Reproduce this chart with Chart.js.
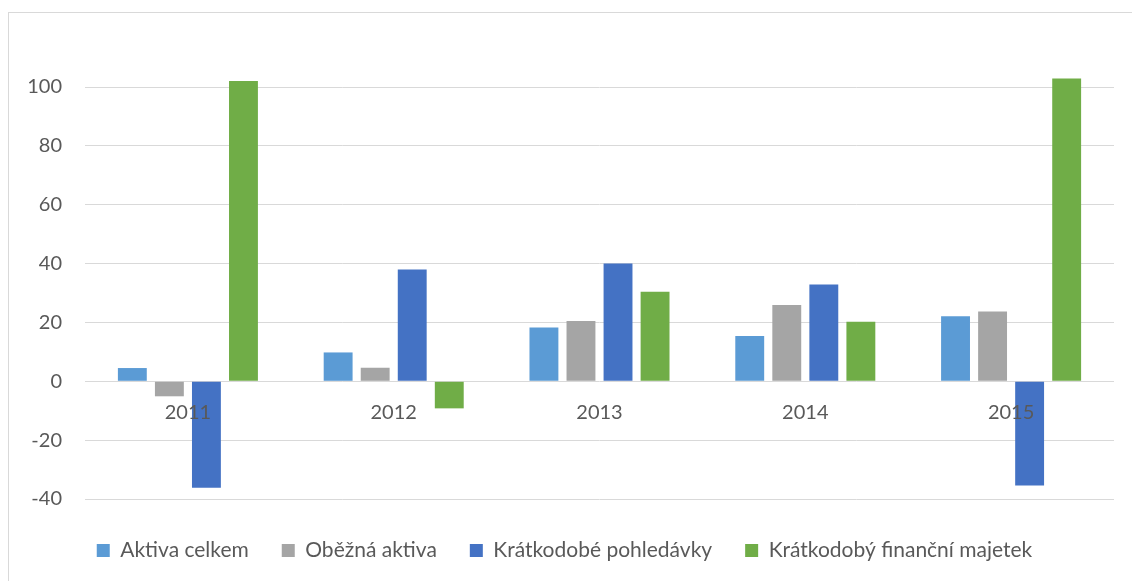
<!DOCTYPE html>
<html>
<head>
<meta charset="utf-8">
<script src="https://cdn.jsdelivr.net/npm/chart.js@4"></script>
<style>
    body { margin: 0; overflow: hidden; background: #fff; }
    #frame { position: absolute; left: 8px; top: 12px; width: 1140px; height: 600px; border: 1px solid #d9d9d9; }
    #chart { position: absolute; left: 0; top: 0; }
</style>
</head>
<body>
<div id="frame"></div>
<canvas id="chart" width="1132" height="581"></canvas>
<script>
// Data
const years = ['2011', '2012', '2013', '2014', '2015'];
const aktivaCelkem = [4.5, 9.8, 18.3, 15.4, 22.1];
const obeznaAktiva = [-5.1, 4.6, 20.5, 25.9, 23.7];
const kratkodobePohledavky = [-36.2, 38.0, 40.0, 32.9, -35.4];
const financniMajetek = [102.0, -9.2, 30.4, 20.2, 102.9];
const seriesNames = ['Aktiva celkem', 'Oběžná aktiva', 'Krátkodobé pohledávky', 'Krátkodobý finanční majetek'];
const seriesColors = ['#5b9bd5', '#a5a5a5', '#4472c4', '#70ad47'];

const textColor = '#595959';
const fontFamily = 'Lato, "Liberation Sans", sans-serif';

// legend sits lower than chart.js would put it
const legendFix = {
    id: 'legendFix',
    beforeLayout(chart) {
        const legend = chart.legend;
        if (legend && !legend._patched) {
            const fit = legend.fit;
            legend.fit = function () {
                fit.call(this);
                this.height = 82;
            };
            legend._patched = true;
        }
    },
    afterLayout(chart) {
        chart.legend.top += 8;
        chart.legend.bottom += 8;
    }
};

const datasets = [aktivaCelkem, obeznaAktiva, kratkodobePohledavky, financniMajetek].map((values, i) => ({
    label: seriesNames[i],
    data: values,
    backgroundColor: seriesColors[i],
    borderWidth: 0,
    categoryPercentage: 0.72,
    barPercentage: 0.78,
    clip: false
}));

new Chart(document.getElementById('chart'), {
    type: 'bar',
    data: { labels: years, datasets: datasets },
    plugins: [legendFix],
    options: {
        responsive: false,
        animation: false,
        layout: { padding: { left: 15, right: 18, top: 87, bottom: 0 } },
        plugins: {
            legend: {
                position: 'bottom',
                labels: {
                    boxWidth: 13,
                    boxHeight: 13,
                    padding: 33,
                    color: textColor,
                    font: { family: fontFamily, size: 21 }
                }
            },
            tooltip: { enabled: false }
        },
        scales: {
            x: {
                position: { y: 0 },
                grid: { display: false },
                border: { display: false },
                ticks: { z: 1, color: textColor, padding: 11, font: { family: fontFamily, size: 20 } }
            },
            y: {
                min: -40,
                max: 100,
                afterFit: (scale) => { scale.width = 70; },
                grid: { color: '#d9d9d9', lineWidth: 1, drawTicks: false },
                border: { display: false },
                ticks: { stepSize: 20, color: textColor, padding: 23, font: { family: fontFamily, size: 20 } }
            }
        }
    }
});
</script>
</body>
</html>
